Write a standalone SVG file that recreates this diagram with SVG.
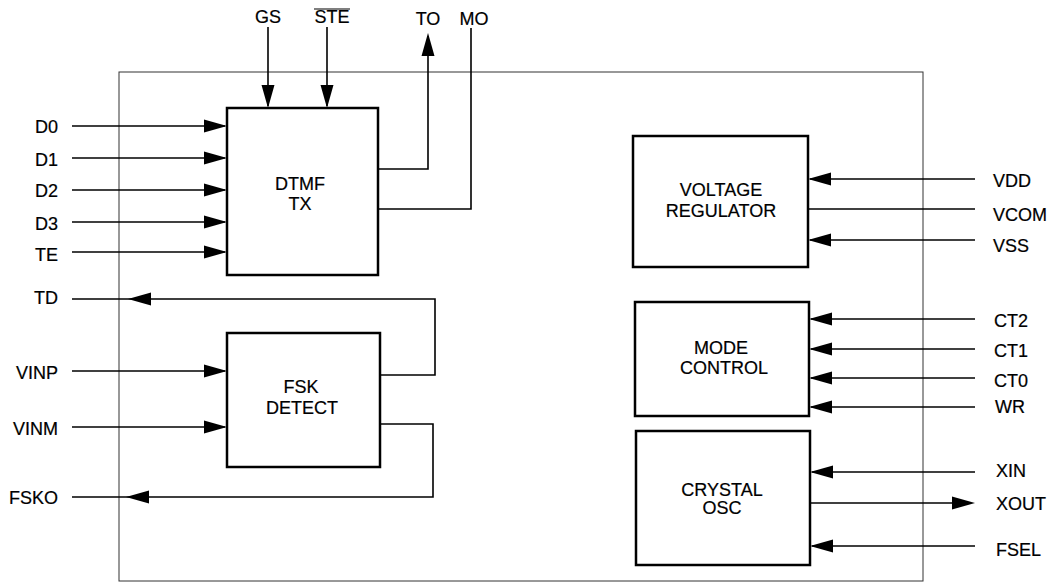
<svg xmlns="http://www.w3.org/2000/svg" width="1056" height="583" viewBox="0 0 1056 583">
<style>
.box{fill:#fff;stroke:#000;stroke-width:2.5}
.frame{fill:none;stroke:#333;stroke-width:1}
.w{fill:none;stroke:#000;stroke-width:1.6}
text{font-family:"Liberation Sans",Arial,sans-serif;font-size:18px;fill:#000;stroke:#000;stroke-width:0.2}
.c{text-anchor:middle}
.e{text-anchor:end}
</style>
<defs>
<path id="ah" d="M0,0 L-23,-6.5 L-23,6.5 Z" fill="#000"/>
</defs>
<rect class="frame" x="119" y="72" width="804" height="509"/>
<g id="connectors">
<path class="w" d="M268,27 V106"/>
<path class="w" d="M327,27 V106"/>
<path class="w" d="M378,169 H428 V36"/>
<path class="w" d="M378,209 H471 V28"/>
<path class="w" d="M72,126 H225"/>
<path class="w" d="M72,158 H225"/>
<path class="w" d="M72,190 H225"/>
<path class="w" d="M72,222 H225"/>
<path class="w" d="M72,252 H225"/>
<path class="w" d="M380,375 H435 V299 H72"/>
<path class="w" d="M72,371 H225"/>
<path class="w" d="M72,427 H225"/>
<path class="w" d="M380,424 H433 V497 H72"/>
<path class="w" d="M975,179 H810"/>
<path class="w" d="M975,209 H808"/>
<path class="w" d="M975,240 H810"/>
<path class="w" d="M975,319 H811"/>
<path class="w" d="M975,349 H811"/>
<path class="w" d="M975,378 H811"/>
<path class="w" d="M975,407 H811"/>
<path class="w" d="M975,472 H812"/>
<path class="w" d="M810,503 H960"/>
<path class="w" d="M975,546 H812"/>
<use href="#ah" transform="translate(268,108) rotate(90)"/>
<use href="#ah" transform="translate(327,108) rotate(90)"/>
<use href="#ah" transform="translate(428,33) rotate(-90)"/>
<use href="#ah" transform="translate(227,126)"/>
<use href="#ah" transform="translate(227,158)"/>
<use href="#ah" transform="translate(227,190)"/>
<use href="#ah" transform="translate(227,222)"/>
<use href="#ah" transform="translate(227,252)"/>
<use href="#ah" transform="translate(128,299) rotate(180)"/>
<use href="#ah" transform="translate(227,371)"/>
<use href="#ah" transform="translate(227,427)"/>
<use href="#ah" transform="translate(126,497) rotate(180)"/>
<use href="#ah" transform="translate(808,179) rotate(180)"/>
<use href="#ah" transform="translate(808,240) rotate(180)"/>
<use href="#ah" transform="translate(809,319) rotate(180)"/>
<use href="#ah" transform="translate(809,349) rotate(180)"/>
<use href="#ah" transform="translate(809,378) rotate(180)"/>
<use href="#ah" transform="translate(809,407) rotate(180)"/>
<use href="#ah" transform="translate(810,472) rotate(180)"/>
<use href="#ah" transform="translate(975,503)"/>
<use href="#ah" transform="translate(810,546) rotate(180)"/>
</g>
<g id="dtmf">
<rect class="box" x="227" y="108" width="151" height="167"/>
<text class="c" x="300" y="190">DTMF</text>
<text class="c" x="300" y="210">TX</text>
</g>
<g id="fsk">
<rect class="box" x="227" y="333" width="153" height="134"/>
<text class="c" x="301" y="393">FSK</text>
<text class="c" x="302" y="414">DETECT</text>
</g>
<g id="vreg">
<rect class="box" x="633" y="136" width="175" height="131"/>
<text class="c" x="721" y="196">VOLTAGE</text>
<text class="c" x="721" y="217">REGULATOR</text>
</g>
<g id="mode">
<rect class="box" x="635" y="302" width="174" height="114"/>
<text class="c" x="721" y="354">MODE</text>
<text class="c" x="724" y="374">CONTROL</text>
</g>
<g id="xtal">
<rect class="box" x="636" y="431" width="174" height="134"/>
<text class="c" x="722" y="496">CRYSTAL</text>
<text class="c" x="722" y="514">OSC</text>
</g>
<g id="pins">
<text class="c" x="268" y="23">GS</text>
<text class="c" x="332" y="23">STE</text>
<line x1="314" y1="9" x2="350" y2="9" stroke="#000" stroke-width="1.2"/>
<text class="c" x="428" y="25">TO</text>
<text class="c" x="474" y="25">MO</text>
<text class="e" x="58" y="133">D0</text>
<text class="e" x="58" y="166">D1</text>
<text class="e" x="58" y="197">D2</text>
<text class="e" x="58" y="230">D3</text>
<text class="e" x="58" y="261">TE</text>
<text class="e" x="58" y="304">TD</text>
<text class="e" x="58" y="379">VINP</text>
<text class="e" x="58" y="435">VINM</text>
<text class="e" x="58" y="504">FSKO</text>
<text x="993" y="187">VDD</text>
<text x="993" y="221">VCOM</text>
<text x="993" y="252">VSS</text>
<text x="994" y="327">CT2</text>
<text x="994" y="357">CT1</text>
<text x="994" y="387">CT0</text>
<text x="995" y="413">WR</text>
<text x="996" y="477">XIN</text>
<text x="996" y="510">XOUT</text>
<text x="996" y="556">FSEL</text>
</g>
</svg>
